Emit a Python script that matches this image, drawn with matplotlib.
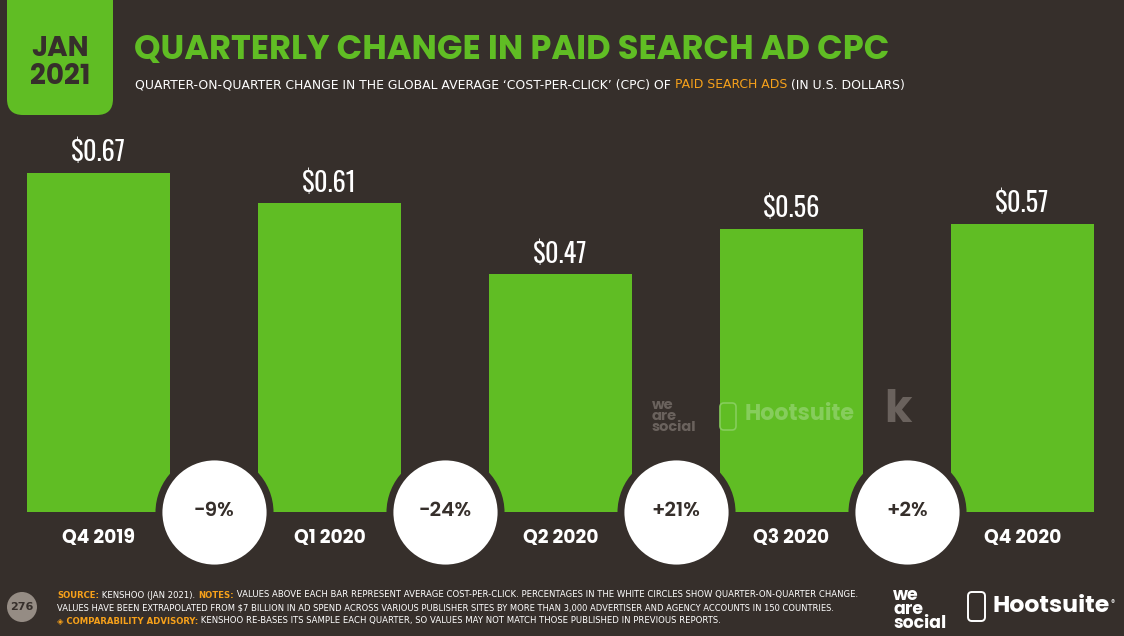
import matplotlib
matplotlib.use("Agg")
import matplotlib.pyplot as plt
from matplotlib.patches import FancyBboxPatch, Circle
from matplotlib import font_manager

# data
quarters = ["Q4 2019", "Q1 2020", "Q2 2020", "Q3 2020", "Q4 2020"]
cpc = [0.67, 0.61, 0.47, 0.56, 0.57]
qoq_change = ["-9%", "-24%", "+21%", "+2%"]

BG = "#362f2b"
GREEN = "#60bd24"
ORANGE = "#f7a11a"
WHITE = "#ffffff"

fonts = font_manager.fontManager.ttflist


def pick(*cands, bold=False):
    for c in cands:
        ws = [f.weight for f in fonts if f.name == c and f.stretch == "normal"]
        ws = [w if isinstance(w, int) else 400 for w in ws]
        if ws and (not bold or max(ws) >= 700):
            return c
    return "DejaVu Sans"


GEO = pick("Montserrat", "Poppins", "Nunito Sans", "Lato", bold=True)
COND = pick("Oswald", "Open Sans Condensed", "IBM Plex Sans Condensed")
SMALL = pick("IBM Plex Sans Condensed", "Open Sans Condensed")

W, H = 1124, 636
fig = plt.figure(figsize=(W / 100, H / 100), dpi=100)
fig.patch.set_facecolor(BG)
renderer = fig.canvas.get_renderer()

# main chart axes: bar i centred at 98.5 + 231*i px, zero line at y=512 px, 506 px per dollar
ax = fig.add_axes([0, 0, 1, 1])
ax.set_xlim((0 - 98.5) / 231, (W - 98.5) / 231)
ax.set_ylim(-(H - 512) / 506, 512 / 506)
ax.axis("off")
ax.patch.set_alpha(0)

x = list(range(len(quarters)))
ax.bar(x, cpc, width=143 / 231, color=GREEN, zorder=2)

for i, v in enumerate(cpc):
    ax.annotate(f"${v:.2f}", (i, v), xytext=(0, 14.5), textcoords="offset points",
                ha="center", va="center", color=WHITE, fontsize=19,
                fontweight="semibold", family=COND, zorder=5)
    ax.annotate(quarters[i], (i, 0), xytext=(0, -19), textcoords="offset points",
                ha="center", va="center", color=WHITE, fontsize=13.5,
                fontweight="bold", family=GEO, zorder=5)

# white change circles between bars
cx = [i + 0.5 for i in range(len(qoq_change))]
ax.scatter(cx, [0] * len(cx), s=80 ** 2, color=WHITE, edgecolor=BG,
           linewidth=5.0, zorder=4)
for c, t in zip(cx, qoq_change):
    ax.text(c, 0, t, ha="center", va="center", color=BG, fontsize=14.5,
            fontweight="semibold", family=GEO, zorder=6)

# overlay in pixel coordinates for header / footer / logos
px = fig.add_axes([0, 0, 1, 1])
px.set_xlim(0, W)
px.set_ylim(H, 0)
px.axis("off")
px.patch.set_alpha(0)

box = FancyBboxPatch((7, -40), 106, 155, boxstyle="round,pad=0,rounding_size=16",
                     facecolor=GREEN, edgecolor="none")
px.add_patch(box)
px.text(60, 49, "JAN", ha="center", va="center", color=BG, fontsize=20,
        fontweight="bold", family=GEO)
px.text(60, 78, "2021", ha="center", va="center", color=BG, fontsize=20,
        fontweight="bold", family=GEO)


def segments(x0, y0, parts, size, family, width=None):
    """Draw coloured text pieces one after another; optionally fit to a width."""
    if width is not None:
        tmp = [px.text(0, 0, t, fontsize=size, family=family, fontweight=w)
               for t, c, w in parts]
        total = sum(t.get_window_extent(renderer=renderer).width for t in tmp)
        for t in tmp:
            t.remove()
        size = size * width / total
    cur = x0
    for txt, col, w in parts:
        t = px.text(cur, y0, txt, ha="left", va="center", color=col,
                    fontsize=size, family=family, fontweight=w)
        cur += t.get_window_extent(renderer=renderer).width
    return cur


segments(134, 51, [("QUARTERLY CHANGE IN PAID SEARCH AD CPC", GREEN, "bold")],
         26, GEO, width=754)

segments(135, 85, [
    ("QUARTER-ON-QUARTER CHANGE IN THE GLOBAL AVERAGE \u2018COST-PER-CLICK\u2019 (CPC) OF ", WHITE, "normal"),
    ("PAID SEARCH ADS", ORANGE, "normal"),
    (" (IN U.S. DOLLARS)", WHITE, "normal"),
], 10, SMALL, width=770)

# watermark logos
px.text(652, 417, "we\nare\nsocial", ha="left", va="center", color="#6a625d",
        fontsize=10.5, fontweight="bold", family=GEO, linespacing=0.72)
px.add_patch(FancyBboxPatch((720, 403), 16, 27, boxstyle="round,pad=0,rounding_size=4",
                            facecolor="none", edgecolor="#86cd5c", linewidth=1.2))
px.text(745, 415, "Hootsuite", ha="left", va="center", color="#86cd5c",
        fontsize=16, fontweight="bold", family=GEO)
px.text(884, 411, "k", ha="left", va="center", color="#6a625d",
        fontsize=32, fontweight="bold", family=GEO)

# footer
px.add_patch(Circle((22, 607), 15, facecolor="#958c84", edgecolor="none"))
px.text(22, 607, "276", ha="center", va="center", color=BG, fontsize=8,
        fontweight="bold", family=SMALL)

segments(57, 595, [
    ("SOURCE:", ORANGE, "bold"),
    (" KENSHOO (JAN 2021). ", WHITE, "normal"),
    ("NOTES:", ORANGE, "bold"),
    (" VALUES ABOVE EACH BAR REPRESENT AVERAGE COST-PER-CLICK. PERCENTAGES IN THE WHITE CIRCLES SHOW QUARTER-ON-QUARTER CHANGE.", WHITE, "normal"),
], 7, SMALL, width=795)
segments(57, 608, [
    ("VALUES HAVE BEEN EXTRAPOLATED FROM $7 BILLION IN AD SPEND ACROSS VARIOUS PUBLISHER SITES BY MORE THAN 3,000 ADVERTISER AND AGENCY ACCOUNTS IN 150 COUNTRIES.", WHITE, "normal"),
], 7, SMALL, width=785)
segments(57, 621, [
    ("\u25c8 COMPARABILITY ADVISORY:", ORANGE, "bold"),
    (" KENSHOO RE-BASES ITS SAMPLE EACH QUARTER, SO VALUES MAY NOT MATCH THOSE PUBLISHED IN PREVIOUS REPORTS.", WHITE, "normal"),
], 7, [SMALL, "DejaVu Sans"], width=660)

px.text(893, 610, "we\nare\nsocial", ha="left", va="center", color=WHITE,
        fontsize=12.5, fontweight="bold", family=GEO, linespacing=0.7)
px.add_patch(FancyBboxPatch((968, 592), 17, 29, boxstyle="round,pad=0,rounding_size=4",
                            facecolor="none", edgecolor=WHITE, linewidth=1.4))
px.text(992, 607, "Hootsuite", ha="left", va="center", color=WHITE,
        fontsize=17, fontweight="bold", family=GEO)
px.text(1111, 603, "\u00ae", ha="left", va="center", color=WHITE,
        fontsize=6, family=GEO)

fig.savefig("out.png", dpi=100, facecolor=BG)
